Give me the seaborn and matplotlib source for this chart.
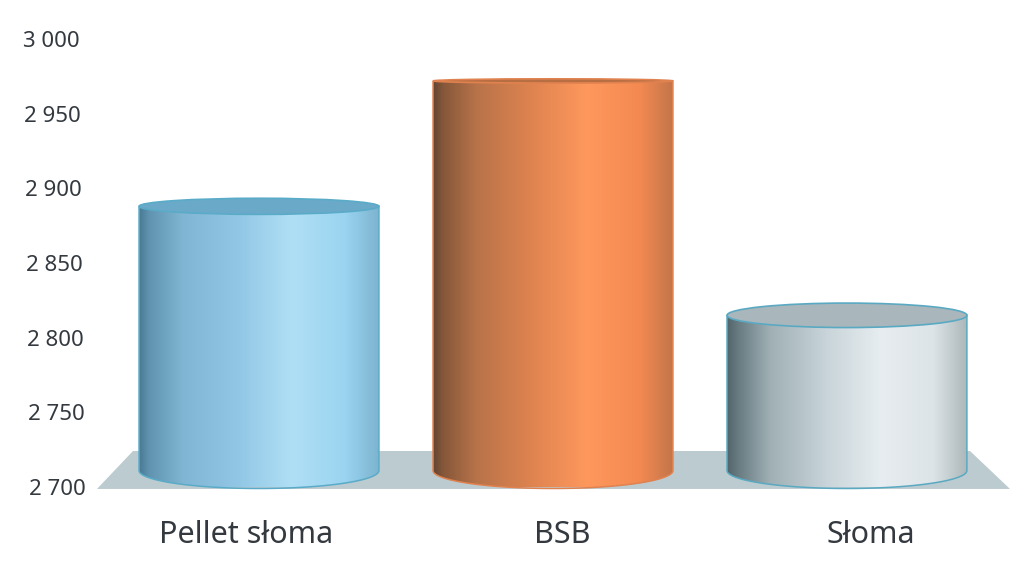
# -*- coding: utf-8 -*-
import numpy as np
import pandas as pd
import seaborn as sns
import matplotlib.pyplot as plt
from matplotlib.colors import LinearSegmentedColormap
from matplotlib.patches import Ellipse, PathPatch, Polygon
from matplotlib.path import Path
from matplotlib.transforms import ScaledTranslation

# Data
categories = ['Pellet słoma', 'BSB', 'Słoma']
values = [2888, 2972, 2815]
y_ticks = [2700, 2750, 2800, 2850, 2900, 2950, 3000]
y_labels = ['2 700', '2 750', '2 800', '2 850', '2 900', '2 950', '3 000']

# Look of each cylinder
top_radius = [5.4, 1.4, 8.2]
side_stops = [0, 0.04, 0.18, 0.42, 0.64, 0.86, 1]
side_colors = [
    ['#4a7a94', '#5f93b0', '#80b6d3', '#92c8e6', '#b0dff5', '#9ad4f0', '#7db4d0'],
    ['#644532', '#85573a', '#b87349', '#e08450', '#fe985d', '#f48a52', '#c4754a'],
    ['#51656b', '#65797f', '#a0b0b5', '#c9d5da', '#e7edf0', '#dde4e7', '#adb8bb'],
]
top_colors = ['#6ba9c9', '#b86e43', '#a9b6bb']
edge_colors = ['#5aabc8', '#e0824f', '#5aa9c2']
label_shift_px = [-13, 9, 24]
text_color = '#33393f'

df = pd.DataFrame({'category': categories, 'value': values})

sns.set_theme(style='white')
plt.rcParams['font.family'] = ['Noto Sans', 'DejaVu Sans']

fig = plt.figure(figsize=(10.26, 5.66), dpi=100)
ax = fig.add_axes([97 / 1026, 79 / 566, 929 / 1026, 487 / 566])

sns.barplot(data=df, x='category', y='value', hue='category', palette=top_colors,
            width=0.816, legend=False, ax=ax)

# grey floor under the cylinders
floor = Polygon([(0, -0.004), (36 / 929, 36 / 487), (873 / 929, 36 / 487), (913 / 929, -0.004)],
                closed=True, transform=ax.transAxes, facecolor='#bccbd0', edgecolor='none',
                clip_on=False, zorder=0.5)
ax.add_patch(floor)

# turn each bar into a cylinder
base = 2711
base_radius = 12
for i, bar in enumerate(ax.patches[:len(categories)]):
    x0 = bar.get_x()
    w = bar.get_width()
    top = bar.get_height()
    xc = x0 + w / 2
    bar.set_visible(False)

    t = np.linspace(np.pi, 2 * np.pi, 80)
    arc_x = xc + w / 2 * np.cos(t)
    arc_y = base + base_radius * np.sin(t)
    verts = [(x0, top)] + list(zip(arc_x, arc_y)) + [(x0 + w, top), (x0, top)]
    body = Path(verts)

    cmap = LinearSegmentedColormap.from_list('side', list(zip(side_stops, side_colors[i])))
    img = ax.imshow(np.linspace(0, 1, 512).reshape(1, -1), cmap=cmap, aspect='auto',
                    interpolation='bilinear', extent=(x0, x0 + w, base - base_radius, top),
                    zorder=2, clip_on=True)
    img.set_clip_path(PathPatch(body, transform=ax.transData))
    img.set_clip_on(True)

    ax.add_patch(PathPatch(body, facecolor='none', edgecolor=edge_colors[i], linewidth=1.1,
                           zorder=3, clip_on=False))
    ax.add_patch(Ellipse((xc, top), w, 2 * top_radius[i], facecolor=top_colors[i],
                         edgecolor=edge_colors[i], linewidth=1.2, zorder=4))

ax.set_xlim(-0.551, 2.609)
ax.set_ylim(2700, 3026.2)
ax.set_yticks(y_ticks)
ax.set_yticklabels(y_labels, fontsize=16, color=text_color)
ax.tick_params(axis='both', length=0)
ax.tick_params(axis='x', labelsize=22, labelcolor=text_color, pad=24)
ax.set_xlabel('')
ax.set_ylabel('')
sns.despine(ax=ax, left=True, bottom=True)

# y labels lean with the floor perspective, x labels sit off the bar centres
for i, tick in enumerate(ax.yaxis.get_major_ticks()):
    tick.set_pad((11 + i) * 0.72)
for label, shift in zip(ax.get_xticklabels(), label_shift_px):
    label.set_transform(label.get_transform() + ScaledTranslation(shift / 100, 0, fig.dpi_scale_trans))

fig.savefig('out.png', dpi=100)
